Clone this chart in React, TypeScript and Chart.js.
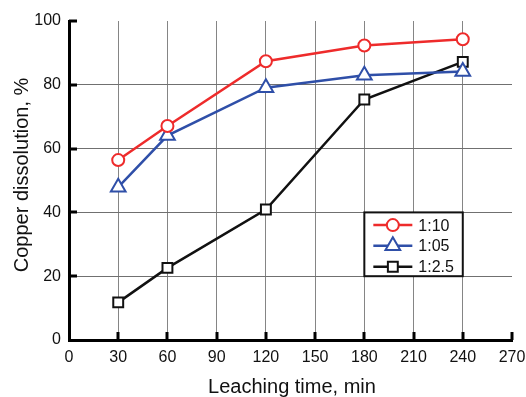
import React, { useEffect, useRef } from "react";
import { Chart, registerables } from "chart.js";

Chart.register(...registerables);

const times = [30, 60, 120, 180, 240];
const ratio10 = [56.4, 67.1, 87.4, 92.3, 94.3];
const ratio05 = [47.9, 64.1, 79.1, 83.0, 84.2];
const ratio25 = [11.8, 22.6, 40.9, 75.4, 87.2];
const seriesNames = ["1:10", "1:05", "1:2.5"];
const xTitle = "Leaching time, min";
const yTitle = "Copper dissolution, %";

const FONT = "'Liberation Sans', Arial, sans-serif";

const pts = (ys: number[]) => times.map((t, i) => ({ x: t, y: ys[i] }));

const overlay = {
  id: "overlay",
  afterDraw(chart: any) {
    const { ctx, chartArea, scales } = chart;
    const xs = scales.x;
    const ys = scales.y;
    ctx.save();
    // inner tick marks
    ctx.strokeStyle = "#000";
    ctx.lineWidth = 3;
    xs.ticks.forEach((t: any) => {
      if (t.value === 0) return;
      const px = Math.round(xs.getPixelForValue(t.value));
      ctx.beginPath();
      ctx.moveTo(px, chartArea.bottom);
      ctx.lineTo(px, chartArea.bottom - 8);
      ctx.stroke();
    });
    ys.ticks.forEach((t: any) => {
      if (t.value === 0) return;
      const py = Math.round(ys.getPixelForValue(t.value));
      ctx.beginPath();
      ctx.moveTo(chartArea.left, py);
      ctx.lineTo(chartArea.left + 8, py);
      ctx.stroke();
    });
    // axis titles
    ctx.fillStyle = "#111";
    ctx.font = `20px ${FONT}`;
    ctx.textAlign = "center";
    ctx.textBaseline = "middle";
    ctx.fillText(xTitle, 292, 387);
    ctx.save();
    ctx.translate(22, 175);
    ctx.rotate(-Math.PI / 2);
    ctx.fillText(yTitle, 0, 0);
    ctx.restore();
    // legend
    const lx0 = xs.getPixelForValue(180);
    const lx1 = xs.getPixelForValue(240);
    const ly0 = ys.getPixelForValue(40);
    const ly1 = ys.getPixelForValue(20);
    ctx.fillStyle = "#fff";
    ctx.fillRect(lx0, ly0, lx1 - lx0, ly1 - ly0);
    ctx.strokeStyle = "#111";
    ctx.lineWidth = 2;
    ctx.strokeRect(lx0, ly0, lx1 - lx0, ly1 - ly0);
    const rowOffsets = [12.7, 33.3, 54.3];
    chart.data.datasets.forEach((ds: any, i: number) => {
      const cy = ly0 + rowOffsets[i];
      const sx0 = lx0 + 9;
      const sx1 = lx0 + 48;
      ctx.strokeStyle = ds.borderColor;
      ctx.lineWidth = ds.borderWidth;
      ctx.beginPath();
      ctx.moveTo(sx0, cy);
      ctx.lineTo(sx1, cy);
      ctx.stroke();
      ctx.fillStyle = "#fff";
      ctx.lineWidth = ds.pointBorderWidth;
      ctx.strokeStyle = ds.borderColor;
      const cx = (sx0 + sx1) / 2;
      const r = ds.pointRadius;
      ctx.beginPath();
      if (ds.pointStyle === "circle") {
        ctx.arc(cx, cy, r, 0, Math.PI * 2);
      } else if (ds.pointStyle === "triangle") {
        ctx.moveTo(cx, cy - r);
        ctx.lineTo(cx + r * Math.sin(Math.PI * 2 / 3), cy + r * 0.5);
        ctx.lineTo(cx - r * Math.sin(Math.PI * 2 / 3), cy + r * 0.5);
        ctx.closePath();
      } else {
        const s = r * Math.SQRT1_2;
        ctx.rect(cx - s, cy - s, 2 * s, 2 * s);
      }
      ctx.fill();
      ctx.stroke();
      ctx.fillStyle = "#111";
      ctx.font = `16px ${FONT}`;
      ctx.textAlign = "left";
      ctx.textBaseline = "middle";
      ctx.fillText(ds.label, lx0 + 54, cy + 1);
    });
    ctx.restore();
  },
};

export default function App() {
  const ref = useRef<HTMLCanvasElement | null>(null);
  useEffect(() => {
    document.body.style.margin = "0";
    document.body.style.background = "#fff";
    if (!ref.current) return;
    const chart = new Chart(ref.current, {
      type: "scatter",
      data: {
        datasets: [
          {
            label: seriesNames[0],
            data: pts(ratio10),
            showLine: true,
            borderColor: "#ee2b2b",
            backgroundColor: "#fff",
            borderWidth: 2.5,
            pointStyle: "circle",
            pointRadius: 6,
            pointBorderWidth: 2,
            pointBackgroundColor: "#fff",
          },
          {
            label: seriesNames[1],
            data: pts(ratio05),
            showLine: true,
            borderColor: "#2f4fa8",
            backgroundColor: "#fff",
            borderWidth: 2.5,
            pointStyle: "triangle",
            pointRadius: 8.5,
            pointBorderWidth: 2,
            pointBackgroundColor: "#fff",
          },
          {
            label: seriesNames[2],
            data: pts(ratio25),
            showLine: true,
            borderColor: "#111",
            backgroundColor: "#fff",
            borderWidth: 2.5,
            pointStyle: "rect",
            pointRadius: 7,
            pointBorderWidth: 2,
            pointBackgroundColor: "#fff",
          },
        ],
      },
      options: {
        animation: false,
        responsive: false,
        layout: { padding: { top: 21, right: 14, left: 0, bottom: 0 } },
        plugins: { legend: { display: false }, tooltip: { enabled: false } },
        scales: {
          x: {
            type: "linear",
            min: 0,
            max: 270,
            afterFit: (s: any) => {
              s.height = 57;
              s.paddingLeft = 0;
              s.paddingRight = 0;
            },
            ticks: {
              stepSize: 30,
              color: "#111",
              font: { family: FONT, size: 16 },
              padding: 8,
            },
            grid: {
              drawTicks: false,
              color: (c: any) =>
                c.tick && (c.tick.value === 0 || c.tick.value === 270) ? "rgba(0,0,0,0)" : "#858585",
              lineWidth: 1,
            },
            border: { display: true, color: "#000", width: 3 },
          },
          y: {
            type: "linear",
            min: 0,
            max: 100,
            afterFit: (s: any) => {
              s.width = 69;
              s.paddingTop = 0;
              s.paddingBottom = 0;
            },
            ticks: {
              stepSize: 20,
              color: "#111",
              font: { family: FONT, size: 16 },
              padding: 8,
            },
            grid: {
              drawTicks: false,
              color: (c: any) =>
                c.tick && (c.tick.value === 0 || c.tick.value === 100) ? "rgba(0,0,0,0)" : "#707070",
              lineWidth: 1,
            },
            border: { display: true, color: "#000", width: 3 },
          },
        },
      },
      plugins: [overlay],
    } as any);
    return () => chart.destroy();
  }, []);
  return <canvas ref={ref} width={526} height={397} style={{ display: "block" }} />;
}
